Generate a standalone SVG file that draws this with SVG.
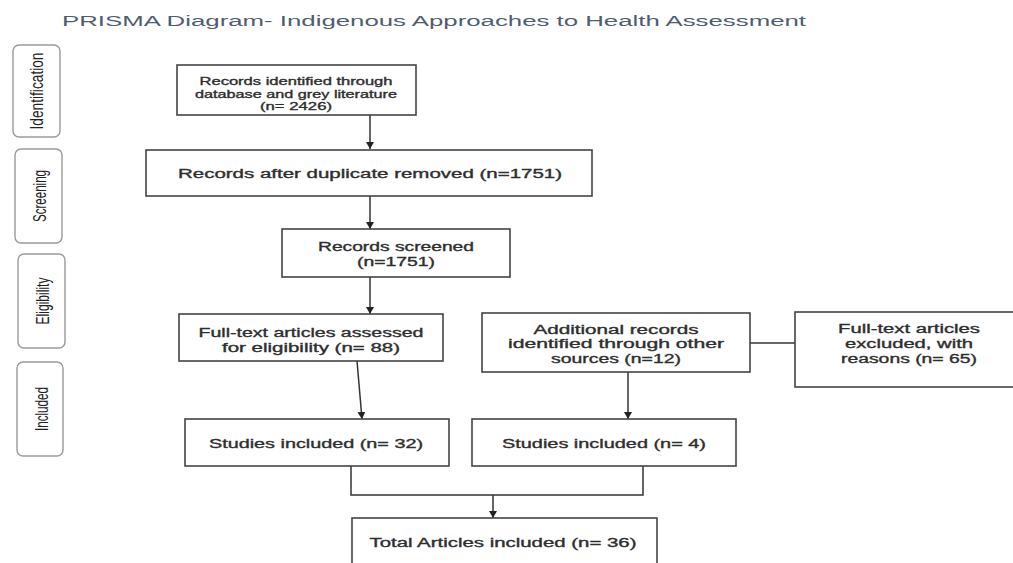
<svg xmlns="http://www.w3.org/2000/svg" width="1013" height="563" viewBox="0 0 1013 563">
  <defs>
    <style>
      .box { fill: #ffffff; stroke: #444444; stroke-width: 1.6; }
      .phase { fill: #ffffff; stroke: #9a9a9a; stroke-width: 1.4; }
      .t { font-family: "Liberation Sans", Arial, sans-serif; font-size: 12.5px; fill: #2e2e2e; stroke: #2e2e2e; stroke-width: 0.35; text-anchor: middle; }
      .s { font-size: 10.8px; }
      .pt { font-family: "Liberation Sans", Arial, sans-serif; font-size: 18px; fill: #222222; text-anchor: middle; }
      .title { font-family: "Liberation Sans", Arial, sans-serif; font-size: 15.5px; fill: #4f5d73; }
      .conn { fill: none; stroke: #333333; stroke-width: 1.5; }
    </style>
    <marker id="arrow" markerUnits="userSpaceOnUse" markerWidth="10" markerHeight="10" refX="7" refY="4" orient="auto">
      <path d="M0,0 L7,4 L0,8 Z" fill="#222222"/>
    </marker>
  </defs>
  <rect x="0" y="0" width="1013" height="563" fill="#ffffff"/>

  <text class="title" x="62" y="26" textLength="744" lengthAdjust="spacingAndGlyphs">PRISMA Diagram- Indigenous Approaches to Health Assessment</text>

  <g id="phase-identification">
    <rect class="phase" x="13" y="45" width="47" height="92" rx="6"/>
    <text class="pt" transform="translate(43,91) rotate(-90)" textLength="77" lengthAdjust="spacingAndGlyphs">Identification</text>
  </g>
  <g id="phase-screening">
    <rect class="phase" x="15" y="149" width="47" height="94" rx="6"/>
    <text class="pt" transform="translate(46,196) rotate(-90)" textLength="52" lengthAdjust="spacingAndGlyphs">Screening</text>
  </g>
  <g id="phase-eligibility">
    <rect class="phase" x="18" y="254" width="47" height="94" rx="6"/>
    <text class="pt" transform="translate(48.5,301) rotate(-90)" textLength="47" lengthAdjust="spacingAndGlyphs">Eligibility</text>
  </g>
  <g id="phase-included">
    <rect class="phase" x="17" y="362" width="46" height="94" rx="6"/>
    <text class="pt" transform="translate(47.5,409) rotate(-90)" textLength="44" lengthAdjust="spacingAndGlyphs">Included</text>
  </g>

  <g id="connectors">
    <line class="conn" x1="370" y1="115" x2="370" y2="149" marker-end="url(#arrow)"/>
    <line class="conn" x1="370" y1="196" x2="370" y2="229" marker-end="url(#arrow)"/>
    <line class="conn" x1="370" y1="277" x2="370" y2="314" marker-end="url(#arrow)"/>
    <line class="conn" x1="357" y1="361" x2="362" y2="419" marker-end="url(#arrow)"/>
    <line class="conn" x1="628" y1="372" x2="628" y2="419" marker-end="url(#arrow)"/>
    <line class="conn" x1="750" y1="343" x2="795" y2="343"/>
    <polyline class="conn" points="351,466 351,495 643,495 643,466"/>
    <line class="conn" x1="493" y1="495" x2="493" y2="518" marker-end="url(#arrow)"/>
  </g>

  <g id="node-identified">
    <rect class="box" x="177" y="65" width="239" height="50"/>
    <text class="t s" x="296" y="85" textLength="193" lengthAdjust="spacingAndGlyphs">Records identified through</text>
    <text class="t s" x="296" y="97.5" textLength="202" lengthAdjust="spacingAndGlyphs">database and grey literature</text>
    <text class="t s" x="296" y="110" textLength="72" lengthAdjust="spacingAndGlyphs">(n= 2426)</text>
  </g>
  <g id="node-duplicates">
    <rect class="box" x="146" y="150" width="446" height="46"/>
    <text class="t" x="370" y="178" textLength="384" lengthAdjust="spacingAndGlyphs">Records after duplicate removed (n=1751)</text>
  </g>
  <g id="node-screened">
    <rect class="box" x="282" y="229" width="228" height="48"/>
    <text class="t" x="396" y="251" textLength="156" lengthAdjust="spacingAndGlyphs">Records screened</text>
    <text class="t" x="396" y="266" textLength="78" lengthAdjust="spacingAndGlyphs">(n=1751)</text>
  </g>
  <g id="node-fulltext">
    <rect class="box" x="179" y="314" width="264" height="47"/>
    <text class="t" x="311" y="337" textLength="225" lengthAdjust="spacingAndGlyphs">Full-text articles assessed</text>
    <text class="t" x="311" y="352" textLength="178" lengthAdjust="spacingAndGlyphs">for eligibility (n= 88)</text>
  </g>
  <g id="node-additional">
    <rect class="box" x="482" y="313" width="268" height="59"/>
    <text class="t" x="616" y="333.5" textLength="165" lengthAdjust="spacingAndGlyphs">Additional records</text>
    <text class="t" x="616" y="348" textLength="216" lengthAdjust="spacingAndGlyphs">identified through other</text>
    <text class="t" x="616" y="362.5" textLength="130" lengthAdjust="spacingAndGlyphs">sources (n=12)</text>
  </g>
  <g id="node-excluded">
    <rect class="box" x="795" y="312" width="235" height="75"/>
    <text class="t" x="909" y="333" textLength="142" lengthAdjust="spacingAndGlyphs">Full-text articles</text>
    <text class="t" x="909" y="348" textLength="128" lengthAdjust="spacingAndGlyphs">excluded, with</text>
    <text class="t" x="909" y="362.5" textLength="136" lengthAdjust="spacingAndGlyphs">reasons (n= 65)</text>
  </g>
  <g id="node-studies-32">
    <rect class="box" x="185" y="419" width="264" height="47"/>
    <text class="t" x="316" y="448" textLength="214" lengthAdjust="spacingAndGlyphs">Studies included (n= 32)</text>
  </g>
  <g id="node-studies-4">
    <rect class="box" x="472" y="419" width="264" height="47"/>
    <text class="t" x="604" y="448" textLength="204" lengthAdjust="spacingAndGlyphs">Studies included (n= 4)</text>
  </g>
  <g id="node-total">
    <rect class="box" x="352" y="518" width="305" height="60"/>
    <text class="t" x="503" y="547" textLength="267" lengthAdjust="spacingAndGlyphs">Total Articles included (n= 36)</text>
  </g>
</svg>
